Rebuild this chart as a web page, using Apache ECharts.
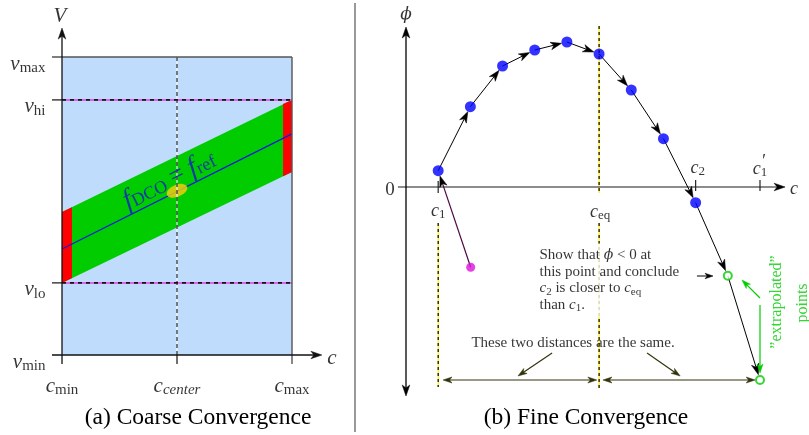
<!DOCTYPE html>
<html><head><meta charset="utf-8">
<script src="https://cdn.jsdelivr.net/npm/echarts@6/dist/echarts.min.js"></script>
<style>html,body{margin:0;padding:0;background:#fff}#c{width:809px;height:435px}</style>
</head><body><div id="c"></div>
<script>
const SERIF = '"Liberation Serif","DejaVu Serif",serif';

// ---------- Panel (a): coarse convergence ----------
// c: c_min=0, c_center=1, c_max=2 ; V normalised: v_min=0 ... v_max=1
const cLevels = [0, 1, 2];
const cNames = ['min', 'center', 'max'];
const vLevels = [0, 0.242, 0.856, 1];
const vNames = ['min', 'lo', 'hi', 'max'];
const plotRect = [[0, 0], [0, 1], [2, 1], [2, 0]];
const bandPoly = [[0, 0.242], [0, 0.48], [2, 0.856], [2, 0.614]];
const redLeftPoly = [[0, 0.242], [0, 0.48], [0.087, 0.496], [0.087, 0.258]];
const redRightPoly = [[1.922, 0.6], [1.922, 0.842], [2, 0.856], [2, 0.614]];
const refLine = [[0, 0.356], [2, 0.742]];
const lockPoint = [1, 0.551];
const cAxisEndA = 2.26, vAxisEndA = 1.097, tickA = 0.087, tickVA = 0.03;
const fLabelAt = [0.93, 0.588];

// ---------- Panel (b): fine convergence ----------
const stepC = [1, 2, 3, 4, 5, 6, 7, 8, 9];
const stepPhi = [1.63, 8.03, 12.1, 13.7, 14.5, 13.3, 9.7, 4.83, -1.57];
const extraC = [10, 11];
const extraPhi = [-8.87, -19.3];
const startPoint = [2.01, -8.03];
const c1 = 1, cEq = 6, c2 = 9, c1p = 11;
const phiAxisTop = 16, phiAxisBottom = -20.9, cAxisStartB = -0.25, cAxisEndB = 11.78;
const distPhi = -19.3;
const distSegs = [[[1.15, distPhi], [5.93, distPhi]], [[6.12, distPhi], [10.85, distPhi]]];
const pointerSegs = [[[4.54, -16.6], [3.48, -18.9]], [[7.49, -16.6], [8.52, -18.9]]];
const smallArrow = [[[9.04, -8.9], [9.54, -8.9]]];
const greenArrows = [[[11, -11.1], [10.44, -9.3]], [[11, -11.8], [11, -18.6]]];
const noteAt = [4.07, -9.3];
const sameAt = [5.19, -15.6];

// ---------- helpers ----------
function head(tip, ux, uy, L, W, color) {
  const N = L * 0.72, bx = tip[0] - ux * L, by = tip[1] - uy * L, nx = -uy, ny = ux;
  return {type: 'polygon', shape: {points: [[tip[0], tip[1]], [bx + nx * W, by + ny * W], [tip[0] - ux * N, tip[1] - uy * N], [bx - nx * W, by - ny * W]]},
    style: {fill: color, stroke: color, lineWidth: 0.5}};
}
function segs(gi, list, st) {
  return {
    type: 'custom', xAxisIndex: gi, yAxisIndex: gi, z: st.z || 3, silent: true, animation: false, clip: false,
    data: list.map(s => [s[0][0], s[0][1], s[1][0], s[1][1]]),
    renderItem: function (params, api) {
      let a = api.coord([api.value(0), api.value(1)]);
      let b = api.coord([api.value(2), api.value(3)]);
      const dx = b[0] - a[0], dy = b[1] - a[1], len = Math.hypot(dx, dy) || 1, ux = dx / len, uy = dy / len;
      const ts = st.trimStart || 0, te = st.trimEnd || 0;
      a = [a[0] + ux * ts, a[1] + uy * ts]; b = [b[0] - ux * te, b[1] - uy * te];
      const L = st.head || 10, W = st.headW || 3.5;
      let la = a, lb = b;
      if (st.end) lb = [b[0] - ux * L * 0.6, b[1] - uy * L * 0.6];
      if (st.start) la = [a[0] + ux * L * 0.6, a[1] + uy * L * 0.6];
      const ch = [];
      const shape = {x1: la[0], y1: la[1], x2: lb[0], y2: lb[1]};
      if (st.under) ch.push({type: 'line', shape: shape, style: {stroke: st.under, lineWidth: st.width}});
      const ls = {stroke: st.color, lineWidth: st.width};
      if (st.dash) ls.lineDash = st.dash;
      ch.push({type: 'line', shape: shape, style: ls});
      if (st.end) ch.push(head(b, ux, uy, L, W, st.headColor || st.color));
      if (st.start) ch.push(head(a, -ux, -uy, L, W, st.headColor || st.color));
      return {type: 'group', children: ch};
    }
  };
}
function polys(gi, list, fills, z) {
  return {
    type: 'custom', xAxisIndex: gi, yAxisIndex: gi, z: z, silent: true, animation: false, clip: false,
    data: list.map(p => [p[0][0], p[0][1]]),
    renderItem: (params, api) => ({type: 'polygon', shape: {points: list[params.dataIndex].map(pt => api.coord(pt))},
      style: {fill: fills[params.dataIndex]}})
  };
}
function texts(gi, items, base, z) {
  return {
    type: 'scatter', xAxisIndex: gi, yAxisIndex: gi, z: z || 6, silent: true, animation: false, clip: false,
    symbolSize: 1, itemStyle: {color: 'rgba(0,0,0,0)'},
    data: items.map(it => ({value: it.at, label: Object.assign({formatter: () => it.text}, it.lab || {})})),
    label: Object.assign({show: true, position: 'inside', color: '#000', fontFamily: SERIF}, base)
  };
}

const richA = {
  m: {fontFamily: SERIF, fontStyle: 'italic', fontSize: 21, color: '#000'},
  s: {fontFamily: SERIF, fontSize: 15, color: '#000', padding: [8, 0, 0, 0]},
  si: {fontFamily: SERIF, fontStyle: 'italic', fontSize: 15, color: '#000', padding: [8, 0, 0, 0]}
};
const richB = {
  m: {fontFamily: SERIF, fontStyle: 'italic', fontSize: 18, color: '#000', lineHeight: 18},
  s: {fontFamily: SERIF, fontSize: 13, color: '#000', padding: [8, 0, 0, 0], lineHeight: 18},
  r: {fontFamily: SERIF, fontSize: 19, color: '#000'},
  p: {fontFamily: '"DejaVu Serif",serif', fontStyle: 'italic', fontSize: 17, color: '#000'},
  i: {fontFamily: SERIF, fontStyle: 'italic', fontSize: 15, color: '#000', lineHeight: 16.7},
  ip: {fontFamily: '"DejaVu Serif",serif', fontStyle: 'italic', fontSize: 14, color: '#000', lineHeight: 16.7},
  ss: {fontFamily: SERIF, fontSize: 11, color: '#000', padding: [7, 0, 0, 0], lineHeight: 16.7}
};

// ---------- series ----------
const series = [];
// panel (a)
series.push(polys(0, [plotRect, bandPoly, redLeftPoly, redRightPoly], ['#bfdcfd', '#00cc00', '#ff0000', '#ff0000'], 1));
series.push(segs(0, [refLine], {color: '#1414e6', width: 1.2, z: 2}));
series.push({type: 'scatter', xAxisIndex: 0, yAxisIndex: 0, z: 2.5, silent: true, animation: false, clip: false,
  symbol: 'circle', symbolSize: [22, 12], symbolRotate: 22, itemStyle: {color: '#ffcc11'}, data: [lockPoint]});
series.push(segs(0, [[[cLevels[1], vLevels[0]], [cLevels[1], vLevels[3]]]], {color: '#000', under: '#fff', width: 1, dash: [4, 3], z: 3}));
series.push(segs(0, [[[cLevels[0], vLevels[1]], [cLevels[2], vLevels[1]]], [[cLevels[0], vLevels[2]], [cLevels[2], vLevels[2]]]],
  {color: '#000', under: '#e040e0', width: 1.5, dash: [4, 4], z: 3}));
series.push(segs(0, [[[cLevels[2], -tickVA], [cLevels[2], vLevels[3]]], [[-tickA, vLevels[3]], [cLevels[2], vLevels[3]]]],
  {color: '#555', width: 1.4, z: 3}));
series.push(segs(0, [[[cLevels[1], -tickVA], [cLevels[1], 0]], [[-tickA, vLevels[1]], [0, vLevels[1]]], [[-tickA, vLevels[2]], [0, vLevels[2]]]],
  {color: '#111', width: 1.2, z: 3}));
series.push(segs(0, [[[cLevels[0], -tickVA], [cLevels[0], vAxisEndA]], [[-tickA, vLevels[0]], [cAxisEndA, vLevels[0]]]],
  {color: '#111', width: 1.3, end: true, head: 11, headW: 3.8, z: 4}));
series.push(texts(0, vLevels.map((v, i) => ({at: [-0.139, v], text: '{m|v}{s|' + vNames[i] + '}', lab: {position: 'left', distance: 0, offset: [0, 7]}}))
  .concat(cLevels.map((c, i) => ({at: [c, 0], text: '{m|c}{' + (i === 1 ? 'si' : 's') + '|' + cNames[i] + '}', lab: {offset: [0, 31]}})))
  .concat([{at: [0, vAxisEndA], text: '{m|V}', lab: {offset: [-2, -12]}}, {at: [cAxisEndA, 0], text: '{m|c}', lab: {offset: [10, 3]}}]),
  {rich: richA, fontSize: 21}));
series.push(texts(0, [{at: fLabelAt, text: '{f|f}{s|DCO} {e|=} {f|f}{s|ref}'}], {
  rotate: 27, color: '#1515d0', fontSize: 24,
  rich: {f: {fontFamily: SERIF, fontStyle: 'italic', fontSize: 28, color: '#1515d0'},
    s: {fontFamily: SERIF, fontSize: 18, color: '#1515d0', padding: [8, 0, 0, 0]},
    e: {fontFamily: SERIF, fontSize: 26, color: '#1515d0'}}
}, 7));

// panel (b)
const chainPts = stepC.map((c, i) => [c, stepPhi[i]]).concat(extraC.map((c, i) => [c, extraPhi[i]]));
const chainSegs = chainPts.slice(1).map((p, i) => [chainPts[i], p]);
series.push(segs(1, [[[c1, -3.6], [c1, -20.0]], [[cEq, phiAxisTop + 0.1], [cEq, -0.6]], [[cEq, -3.6], [cEq, -20.1]]],
  {color: '#000', under: '#ffee00', width: 1.2, dash: [3, 3], z: 2}));
series.push(segs(1, [[[cAxisStartB, 0], [cAxisEndB, 0]]], {color: '#666', width: 1.3, end: true, headColor: '#000', head: 11, headW: 3.8, z: 2}));
series.push(segs(1, [[[0, phiAxisBottom], [0, phiAxisTop]]], {color: '#000', width: 1.3, end: true, start: true, head: 11, headW: 3.8, z: 2}));
series.push(segs(1, [[[c1, 0.6], [c1, -0.6]], [[c2, 0.7], [c2, -0.4]], [[c1p, 0.7], [c1p, -0.4]]], {color: '#222', width: 1.2, z: 2}));
series.push(segs(1, chainSegs, {color: '#000', width: 1, end: true, trimEnd: 5.5, head: 11, headW: 3.8, z: 3}));
series.push(segs(1, [[startPoint, chainPts[0]]], {color: '#4a0a40', headColor: '#000', width: 1.2, end: true, trimEnd: 5.5, head: 11, headW: 3.8, z: 3}));
series.push(segs(1, distSegs, {color: '#33330a', width: 1.2, end: true, start: true, head: 9, headW: 3, z: 3}));
series.push(segs(1, pointerSegs, {color: '#33330a', width: 1.2, end: true, head: 9, headW: 3, z: 3}));
series.push(segs(1, smallArrow, {color: '#000', width: 1, end: true, head: 8, headW: 2.8, z: 3}));
series.push(segs(1, greenArrows, {color: '#00cc00', width: 1.2, end: true, head: 9, headW: 3, z: 3}));
series.push({type: 'scatter', xAxisIndex: 1, yAxisIndex: 1, z: 4, silent: true, animation: false, clip: false,
  symbolSize: 11, itemStyle: {color: '#0000ff'}, data: stepC.map((c, i) => [c, stepPhi[i]])});
series.push({type: 'scatter', xAxisIndex: 1, yAxisIndex: 1, z: 4, silent: true, animation: false, clip: false,
  symbolSize: 8, itemStyle: {color: '#fff', borderColor: '#00cc00', borderWidth: 2}, data: extraC.map((c, i) => [c, extraPhi[i]])});
series.push({type: 'scatter', xAxisIndex: 1, yAxisIndex: 1, z: 4, silent: true, animation: false, clip: false,
  symbolSize: 9, itemStyle: {color: '#dd11dd'}, data: [startPoint]});
series.push(texts(1, [
  {at: [c1, 0], text: '{m|c}{s|1}', lab: {offset: [0, 24]}},
  {at: [cEq, 0], text: '{m|c}{s|eq}', lab: {offset: [1, 25]}},
  {at: [c2, 0], text: '{m|c}{s|2}', lab: {offset: [2, -19]}},
  {at: [c1p, 0], text: '{m|c}{s|1}', lab: {offset: [0, -18]}},
  {at: [c1p, 0], text: '{m|′}', lab: {offset: [3, -25]}},
  {at: [0, 0], text: '{r|0}', lab: {offset: [-16, 3]}},
  {at: [0, phiAxisTop], text: '{p|ϕ}', lab: {offset: [0, -12]}},
  {at: [cAxisEndB, 0], text: '{m|c}', lab: {offset: [9, 2]}},
  {at: sameAt, text: 'These two distances are the same.'}
], {rich: richB, fontSize: 15}));
series.push(texts(1, [{at: noteAt,
  text: 'Show that {ip|ϕ} < 0 at\nthis point and conclude\n{i|c}{ss|2} is closer to {i|c}{ss|eq}\nthan {i|c}{ss|1}.'}],
  {rich: richB, fontSize: 15, lineHeight: 16.7, position: 'right', distance: 0, align: 'left', backgroundColor: '#fff', padding: [3, 2, 3, 2]}, 7));
series.push(texts(1, [{at: [11.53, -11.5], text: '”extrapolated”'}, {at: [12.34, -11.6], text: 'points'}],
  {rotate: 90, color: '#00cc00', fontSize: 16}));

const chart = echarts.init(document.getElementById('c'), null, {renderer: 'canvas'});
chart.setOption({
  animation: false,
  backgroundColor: '#fff',
  grid: [{left: 62, top: 57, width: 230, height: 298}, {left: 406, top: 27, width: 354, height: 370}],
  xAxis: [{gridIndex: 0, type: 'value', min: 0, max: 2, show: false}, {gridIndex: 1, type: 'value', min: 0, max: 11, show: false}],
  yAxis: [{gridIndex: 0, type: 'value', min: 0, max: 1, show: false}, {gridIndex: 1, type: 'value', min: -21, max: 16, show: false}],
  graphic: [
    {type: 'line', shape: {x1: 355, y1: 3, x2: 355, y2: 432}, style: {stroke: '#777', lineWidth: 1.5}, silent: true},
    {type: 'text', x: 198, y: 418, style: {text: '(a) Coarse Convergence', font: '23.5px ' + SERIF, fill: '#000', align: 'center', verticalAlign: 'middle', textAlign: 'center', textVerticalAlign: 'middle'}, silent: true},
    {type: 'text', x: 586, y: 418, style: {text: '(b) Fine Convergence', font: '23.5px ' + SERIF, fill: '#000', align: 'center', verticalAlign: 'middle', textAlign: 'center', textVerticalAlign: 'middle'}, silent: true}
  ],
  series: series
});
</script></body></html>
